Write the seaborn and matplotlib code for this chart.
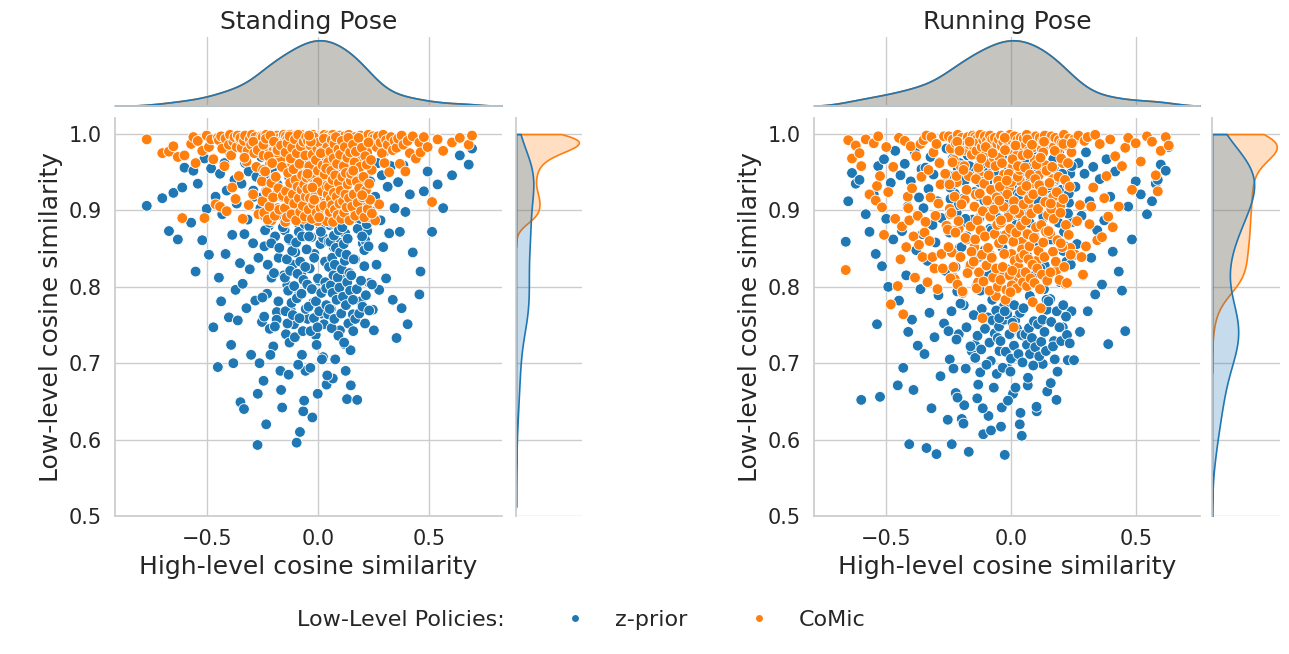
import numpy as np
import pandas as pd
import matplotlib
matplotlib.use("Agg")
import matplotlib.pyplot as plt
from matplotlib.lines import Line2D
import seaborn as sns

# ---- Standing pose: high-level similarity (shared) + low-level similarity per policy ----
stand_high = [
    -0.77, -0.70, -0.67, -0.65, -0.63, -0.61, -0.60,
    -0.57, -0.56, -0.55, -0.54, -0.52, -0.51, -0.50, -0.49, -0.48, -0.47, -0.46, -0.45,
    -0.445, -0.44, -0.435, -0.43, -0.42, -0.415, -0.41, -0.40, -0.395, -0.39, -0.385, -0.38,
    -0.375, -0.37, -0.365, -0.36, -0.355, -0.35,
    -0.348, -0.343, -0.338, -0.332, -0.327, -0.321, -0.316, -0.311, -0.306, -0.300, -0.296, -0.291,
    -0.286, -0.281, -0.276, -0.271, -0.267, -0.262, -0.258, -0.254, -0.251, -0.33, -0.29, -0.27,
    -0.248, -0.244, -0.240, -0.236, -0.232, -0.228, -0.224, -0.220, -0.216, -0.212, -0.208, -0.204,
    -0.200, -0.196, -0.192, -0.188, -0.184, -0.180, -0.176, -0.172, -0.168, -0.164, -0.160, -0.156,
    -0.153, -0.246, -0.218, -0.185,
    -0.149, -0.146, -0.143, -0.140, -0.137, -0.134, -0.131, -0.128, -0.125, -0.122, -0.119, -0.116,
    -0.113, -0.110, -0.107, -0.104, -0.101, -0.098, -0.095, -0.092, -0.089, -0.086, -0.083, -0.080,
    -0.077, -0.074, -0.071, -0.068, -0.065, -0.060, -0.055,
    -0.048, -0.045, -0.042, -0.039, -0.036, -0.033, -0.030, -0.027, -0.024, -0.021, -0.018, -0.015,
    -0.012, -0.009, -0.006, -0.003, 0.000, 0.003, 0.006, 0.009, 0.012, 0.015, 0.018, 0.021,
    0.024, 0.027, 0.030, 0.033, 0.036, 0.040, 0.044, 0.048,
    0.052, 0.056, 0.060, 0.064, 0.068, 0.072, 0.076, 0.080, 0.084, 0.088, 0.092, 0.096,
    0.100, 0.104, 0.108, 0.112, 0.116, 0.120, 0.124, 0.128, 0.132, 0.136, 0.140, 0.144,
    0.148, 0.062, 0.094, 0.126,
    0.153, 0.158, 0.163, 0.168, 0.173, 0.178, 0.183, 0.188, 0.193, 0.198, 0.203, 0.208,
    0.213, 0.218, 0.223, 0.228, 0.233, 0.238, 0.243, 0.248, 0.17, 0.21,
    0.253, 0.259, 0.265, 0.271, 0.277, 0.283, 0.289, 0.295, 0.301, 0.308, 0.315, 0.322, 0.330, 0.338, 0.346,
    0.355, 0.362, 0.370, 0.378, 0.386, 0.395, 0.405, 0.415, 0.428, 0.442,
    0.458, 0.463, 0.478, 0.495, 0.515, 0.540,
    0.565, 0.605, 0.640, 0.680, 0.695,
    # dense core of the cloud
    -0.249, -0.245, -0.241, -0.237, -0.233, -0.229, -0.225, -0.221, -0.217, -0.213, -0.209,
    -0.205, -0.201, -0.197, -0.193, -0.189, -0.181, -0.177, -0.173, -0.165, -0.161, -0.157,
    -0.148, -0.145, -0.142, -0.139, -0.136, -0.133, -0.130, -0.127, -0.124, -0.121, -0.118, -0.115,
    -0.112, -0.109, -0.106, -0.103, -0.100, -0.097, -0.094, -0.091, -0.088, -0.085, -0.082, -0.079,
    -0.076, -0.073, -0.070, -0.067, -0.064, -0.061, -0.058, -0.056, -0.054, -0.052, -0.050,
    -0.047, -0.044, -0.041, -0.038, -0.035, -0.032, -0.029, -0.026, -0.023, -0.020, -0.017, -0.014,
    -0.011, -0.008, -0.005, -0.002, 0.001, 0.004, 0.007, 0.010, 0.013, 0.016, 0.019, 0.022,
    0.025, 0.028, 0.031, 0.034, 0.037, 0.039, 0.041, 0.043, 0.045, 0.047, 0.049, -0.046,
    -0.031, -0.016, -0.001, 0.014, 0.029, 0.038, -0.039, -0.024, 0.006,
    0.051, 0.054, 0.057, 0.059, 0.061, 0.063, 0.065, 0.067, 0.069, 0.071, 0.073, 0.075,
    0.077, 0.079, 0.082, 0.085, 0.087, 0.090, 0.093, 0.095, 0.098, 0.101, 0.103, 0.106,
    0.109, 0.111, 0.114, 0.117, 0.119, 0.122, 0.125, 0.127, 0.130, 0.133, 0.135, 0.138,
    0.141, 0.143, 0.146, 0.149,
    0.151, 0.155, 0.159, 0.162, 0.166, 0.169, 0.172, 0.176, 0.180, 0.184, 0.187, 0.191,
    0.195, 0.199, 0.202, 0.206, 0.210, 0.214, 0.217, 0.221, 0.225, 0.229, 0.232, 0.236,
    0.240, 0.244, 0.160, 0.200,
]
stand_zprior = [
    0.906, 0.916, 0.873, 0.923, 0.862, 0.930, 0.956,
    0.884, 0.952, 0.820, 0.935, 0.861, 0.968, 0.902, 0.842, 0.955, 0.747, 0.918, 0.695,
    0.812, 0.948, 0.781, 0.895, 0.962, 0.843, 0.926, 0.760, 0.975, 0.724, 0.868, 0.700,
    0.940, 0.796, 0.909, 0.756, 0.983, 0.831,
    0.649, 0.935, 0.804, 0.640, 0.962, 0.772, 0.888, 0.951, 0.823, 0.711, 0.976, 0.857,
    0.918, 0.782, 0.944, 0.593, 0.838, 0.700, 0.903, 0.970, 0.754, 0.869, 0.926, 0.660,
    0.918, 0.677, 0.853, 0.955, 0.620, 0.791, 0.937, 0.880, 0.745, 0.968, 0.812, 0.901,
    0.722, 0.947, 0.866, 0.983, 0.767, 0.925, 0.838, 0.959, 0.690, 0.894, 0.642, 0.973,
    0.815, 0.939, 0.910, 0.757,
    0.874, 0.956, 0.738, 0.921, 0.802, 0.985, 0.685, 0.943, 0.861, 0.770, 0.967, 0.899,
    0.829, 0.932, 0.751, 0.975, 0.845, 0.908, 0.596, 0.950, 0.788, 0.883, 0.929, 0.610,
    0.962, 0.817, 0.711, 0.941, 0.637, 0.978, 0.690,
    0.936, 0.758, 0.902, 0.971, 0.824, 0.694, 0.949, 0.865, 0.912, 0.779, 0.988, 0.843,
    0.926, 0.737, 0.958, 0.887, 0.660, 0.941, 0.808, 0.977, 0.856, 0.918, 0.765, 0.963,
    0.708, 0.894, 0.932, 0.833, 0.969, 0.672, 0.905, 0.947,
    0.881, 0.960, 0.771, 0.924, 0.680, 0.852, 0.978, 0.906, 0.796, 0.944, 0.826, 0.968,
    0.743, 0.892, 0.935, 0.812, 0.955, 0.725, 0.870, 0.982, 0.653, 0.913, 0.789, 0.949,
    0.717, 0.929, 0.858, 0.690,
    0.907, 0.764, 0.951, 0.836, 0.975, 0.652, 0.889, 0.930, 0.781, 0.963, 0.857, 0.916,
    0.752, 0.944, 0.873, 0.986, 0.805, 0.938, 0.899, 0.770, 0.922, 0.848,
    0.743, 0.918, 0.829, 0.962, 0.796, 0.887, 0.946, 0.852, 0.977, 0.811, 0.931, 0.870, 0.958, 0.783, 0.903,
    0.733, 0.937, 0.872, 0.772, 0.959, 0.898, 0.751, 0.921, 0.845, 0.968,
    0.790, 0.820, 0.925, 0.951, 0.872, 0.934,
    0.903, 0.946, 0.972, 0.960, 0.981,
    # dense core of the cloud
    0.786, 0.942, 0.761, 0.874, 0.925, 0.948, 0.829, 0.973, 0.884, 0.711, 0.857,
    0.955, 0.962, 0.818, 0.748, 0.939, 0.934, 0.781, 0.851, 0.665, 0.918, 0.878,
    0.812, 0.768, 0.885, 0.836, 0.752, 0.795, 0.863, 0.727, 0.821, 0.958, 0.779, 0.847,
    0.763, 0.889, 0.801, 0.734, 0.926, 0.858, 0.785, 0.817, 0.698, 0.872, 0.759, 0.833,
    0.946, 0.791, 0.866, 0.742, 0.809, 0.651, 0.882, 0.826, 0.771, 0.915, 0.849,
    0.803, 0.951, 0.774, 0.879, 0.926, 0.742, 0.865, 0.797, 0.936, 0.918, 0.759, 0.888,
    0.935, 0.781, 0.724, 0.957, 0.811, 0.953, 0.768, 0.942, 0.876, 0.792, 0.705, 0.929,
    0.864, 0.751, 0.919, 0.806, 0.948, 0.776, 0.891, 0.684, 0.923, 0.764, 0.859, 0.968,
    0.941, 0.838, 0.747, 0.872, 0.915, 0.798, 0.866, 0.629, 0.933,
    0.826, 0.771, 0.859, 0.802, 0.884, 0.746, 0.838, 0.792, 0.941, 0.815, 0.867, 0.758,
    0.829, 0.705, 0.851, 0.783, 0.895, 0.812, 0.736, 0.874, 0.799, 0.845, 0.958, 0.765,
    0.823, 0.878, 0.787, 0.856, 0.727, 0.834, 0.908, 0.776, 0.842, 0.806, 0.863, 0.752,
    0.887, 0.818, 0.795, 0.671,
    0.815, 0.964, 0.783, 0.836, 0.902, 0.758, 0.949, 0.797, 0.876, 0.921, 0.765, 0.889,
    0.808, 0.943, 0.774, 0.931, 0.827, 0.861, 0.789, 0.882, 0.912, 0.853, 0.769, 0.938,
    0.895, 0.803, 0.742, 0.866,
]
stand_comic = [
    0.993, 0.975, 0.977, 0.984, 0.970, 0.890, 0.972,
    0.987, 0.996, 0.962, 0.991, 0.978, 0.890, 0.998, 0.983, 0.993, 0.967, 0.908, 0.995,
    0.992, 0.905, 0.997, 0.981, 0.958, 0.994, 0.899, 0.986, 0.999, 0.972, 0.930, 0.990,
    0.996, 0.915, 0.983, 0.998, 0.945, 0.993,
    0.995, 0.982, 0.889, 0.991, 0.998, 0.964, 0.978, 0.907, 0.993, 0.986, 0.999, 0.921,
    0.975, 0.996, 0.957, 0.988, 0.895, 0.992, 0.983, 0.997, 0.938, 0.969, 0.990, 0.979,
    0.996, 0.972, 0.893, 0.988, 0.999, 0.915, 0.983, 0.994, 0.960, 0.990, 0.887, 0.997,
    0.978, 0.942, 0.992, 0.985, 0.998, 0.903, 0.981, 0.995, 0.966, 0.991, 0.926, 0.987,
    0.999, 0.953, 0.993, 0.976,
    0.990, 0.885, 0.997, 0.979, 0.993, 0.955, 0.988, 0.918, 0.999, 0.984, 0.971, 0.996,
    0.901, 0.991, 0.986, 0.947, 0.998, 0.977, 0.994, 0.932, 0.989, 0.963, 0.995, 0.910,
    0.982, 0.999, 0.973, 0.992, 0.889, 0.987, 0.996,
    0.994, 0.981, 0.897, 0.998, 0.990, 0.958, 0.986, 0.993, 0.921, 0.999, 0.977, 0.987,
    0.940, 0.995, 0.969, 0.991, 0.886, 0.983, 0.997, 0.952, 0.989, 0.996, 0.908, 0.980,
    0.993, 0.975, 0.999, 0.927, 0.985, 0.964, 0.992, 0.998,
    0.988, 0.996, 0.930, 0.983, 0.999, 0.971, 0.992, 0.894, 0.987, 0.995, 0.961, 0.979,
    0.998, 0.912, 0.990, 0.984, 0.946, 0.997, 0.975, 0.993, 0.889, 0.986, 0.999, 0.956,
    0.981, 0.994, 0.920, 0.991,
    0.991, 0.978, 0.899, 0.996, 0.985, 0.993, 0.942, 0.988, 0.998, 0.967, 0.982, 0.913,
    0.995, 0.987, 0.976, 0.999, 0.891, 0.990, 0.953, 0.997, 0.984, 0.935,
    0.994, 0.887, 0.983, 0.997, 0.908, 0.989, 0.975, 0.999, 0.962, 0.992, 0.986, 0.950, 0.996, 0.979, 0.991,
    0.982, 0.994, 0.961, 0.998, 0.986, 0.951, 0.991, 0.975, 0.997, 0.968,
    0.989, 0.976, 0.996, 0.983, 0.911, 0.993,
    0.978, 0.989, 0.995, 0.986, 0.998,
    # dense core of the cloud
    0.912, 0.986, 0.897, 0.951, 0.994, 0.924, 0.888, 0.971, 0.905, 0.998, 0.936,
    0.962, 0.917, 0.990, 0.893, 0.944, 0.979, 0.929, 0.901, 0.985, 0.957, 0.919,
    0.903, 0.976, 0.925, 0.891, 0.988, 0.949, 0.914, 0.997, 0.936, 0.968, 0.895, 0.982,
    0.921, 0.954, 0.909, 0.993, 0.940, 0.887, 0.975, 0.931, 0.999, 0.916, 0.961, 0.898,
    0.984, 0.927, 0.946, 0.906, 0.990, 0.934, 0.892, 0.972, 0.918, 0.996, 0.943,
    0.928, 0.991, 0.901, 0.958, 0.916, 0.985, 0.944, 0.889, 0.973, 0.908, 0.996, 0.935,
    0.919, 0.966, 0.897, 0.981, 0.952, 0.912, 0.989, 0.939, 0.903, 0.977, 0.925, 0.959,
    0.893, 0.994, 0.947, 0.910, 0.970, 0.932, 0.886, 0.983, 0.921, 0.963, 0.899, 0.948,
    0.990, 0.914, 0.937, 0.975, 0.906, 0.955, 0.998, 0.930, 0.891,
    0.931, 0.898, 0.977, 0.915, 0.952, 0.992, 0.907, 0.940, 0.885, 0.968, 0.923, 0.987,
    0.901, 0.946, 0.996, 0.918, 0.961, 0.894, 0.980, 0.936, 0.909, 0.973, 0.926, 0.889,
    0.991, 0.944, 0.912, 0.958, 0.897, 0.983, 0.921, 0.949, 0.904, 0.969, 0.934, 0.995,
    0.916, 0.887, 0.976, 0.939,
    0.948, 0.905, 0.986, 0.921, 0.963, 0.893, 0.977, 0.938, 0.910, 0.995, 0.929, 0.957,
    0.899, 0.982, 0.917, 0.944, 0.891, 0.971, 0.926, 0.960, 0.902, 0.989, 0.935, 0.914,
    0.966, 0.896, 0.952, 0.920,
]

# ---- Running pose ----
run_high = [
    -0.660, -0.650, -0.635, -0.620, -0.605, -0.598, -0.580, -0.565,
    -0.548, -0.540, -0.535, -0.530, -0.523, -0.515, -0.507, -0.498, -0.490, -0.480, -0.470, -0.462, -0.452,
    -0.447, -0.441, -0.435, -0.430, -0.424, -0.418, -0.412, -0.406, -0.400, -0.395, -0.389, -0.383,
    -0.378, -0.372, -0.367, -0.361, -0.357, -0.353, -0.410,
    -0.349, -0.345, -0.341, -0.337, -0.333, -0.329, -0.325, -0.321, -0.317, -0.313, -0.309, -0.305,
    -0.301, -0.297, -0.293, -0.289, -0.285, -0.281, -0.277, -0.272, -0.267, -0.262, -0.257, -0.252,
    -0.248, -0.244, -0.240, -0.236, -0.232, -0.228, -0.224, -0.220, -0.216, -0.212, -0.208, -0.204,
    -0.200, -0.196, -0.192, -0.188, -0.184, -0.180, -0.176, -0.172, -0.168, -0.164, -0.160, -0.156,
    -0.152, -0.242, -0.214, -0.186,
    -0.149, -0.146, -0.143, -0.140, -0.137, -0.134, -0.131, -0.128, -0.125, -0.122, -0.119, -0.116,
    -0.113, -0.110, -0.107, -0.104, -0.101, -0.098, -0.095, -0.092, -0.089, -0.086, -0.083, -0.080,
    -0.077, -0.074, -0.071, -0.068, -0.064, -0.059, -0.054,
    -0.048, -0.045, -0.042, -0.039, -0.036, -0.033, -0.030, -0.027, -0.024, -0.021, -0.018, -0.015,
    -0.012, -0.009, -0.006, -0.003, 0.000, 0.003, 0.006, 0.009, 0.012, 0.015, 0.018, 0.021,
    0.024, 0.027, 0.030, 0.033, 0.036, 0.040, 0.044, 0.048,
    0.052, 0.056, 0.060, 0.064, 0.068, 0.072, 0.076, 0.080, 0.084, 0.088, 0.092, 0.096,
    0.100, 0.104, 0.108, 0.112, 0.116, 0.120, 0.124, 0.128, 0.132, 0.136, 0.140, 0.144,
    0.148, 0.066, 0.098, 0.130,
    0.153, 0.158, 0.163, 0.168, 0.173, 0.178, 0.183, 0.188, 0.193, 0.198, 0.203, 0.208,
    0.213, 0.218, 0.223, 0.228, 0.233, 0.238, 0.243, 0.248, 0.170, 0.210,
    0.253, 0.259, 0.265, 0.271, 0.277, 0.283, 0.289, 0.295, 0.301, 0.308, 0.315, 0.322, 0.330, 0.338, 0.346,
    0.356, 0.365, 0.374, 0.383, 0.390, 0.398, 0.408, 0.418, 0.432, 0.445,
    0.458, 0.470, 0.485, 0.500, 0.520, 0.545,
    0.565, 0.580, 0.588, 0.600, 0.620, 0.632,
    # dense core of the cloud
    -0.249, -0.245, -0.241, -0.237, -0.233, -0.229, -0.225, -0.221, -0.217, -0.213, -0.209,
    -0.205, -0.201, -0.197, -0.193, -0.189, -0.181, -0.177, -0.173, -0.165, -0.161, -0.157,
    -0.148, -0.145, -0.142, -0.139, -0.136, -0.133, -0.130, -0.127, -0.124, -0.121, -0.118, -0.115,
    -0.112, -0.109, -0.106, -0.103, -0.100, -0.097, -0.094, -0.091, -0.088, -0.085, -0.082, -0.079,
    -0.076, -0.073, -0.070, -0.067, -0.064, -0.061, -0.058, -0.056, -0.054, -0.052, -0.050,
    -0.047, -0.044, -0.041, -0.038, -0.035, -0.032, -0.029, -0.026, -0.023, -0.020, -0.017, -0.014,
    -0.011, -0.008, -0.005, -0.002, 0.001, 0.004, 0.007, 0.010, 0.013, 0.016, 0.019, 0.022,
    0.025, 0.028, 0.031, 0.034, 0.037, 0.039, 0.041, 0.043, 0.045, 0.047, 0.049, -0.046,
    -0.031, -0.016, -0.001, 0.014, 0.029, 0.038, -0.039, -0.024, 0.006,
    0.051, 0.054, 0.057, 0.059, 0.061, 0.063, 0.065, 0.067, 0.069, 0.071, 0.073, 0.075,
    0.077, 0.079, 0.082, 0.085, 0.087, 0.090, 0.093, 0.095, 0.098, 0.101, 0.103, 0.106,
    0.109, 0.111, 0.114, 0.117, 0.119, 0.122, 0.125, 0.127, 0.130, 0.133, 0.135, 0.138,
    0.141, 0.143, 0.146, 0.149,
    0.151, 0.155, 0.159, 0.162, 0.166, 0.169, 0.172, 0.176, 0.180, 0.184, 0.187, 0.191,
    0.195, 0.199, 0.202, 0.206, 0.210, 0.214, 0.217, 0.221, 0.225, 0.229, 0.232, 0.236,
    0.240, 0.244, 0.160, 0.200,
]
run_zprior = [
    0.859, 0.912, 0.949, 0.935, 0.940, 0.652, 0.895, 0.872,
    0.921, 0.843, 0.751, 0.958, 0.656, 0.827, 0.967, 0.889, 0.800, 0.936, 0.862, 0.978, 0.671,
    0.782, 0.946, 0.873, 0.694, 0.961, 0.815, 0.905, 0.594, 0.938, 0.757, 0.665, 0.976,
    0.848, 0.723, 0.917, 0.797, 0.954, 0.869, 0.741,
    0.903, 0.712, 0.956, 0.589, 0.834, 0.928, 0.766, 0.970, 0.641, 0.881, 0.947, 0.734,
    0.858, 0.581, 0.912, 0.789, 0.963, 0.683, 0.890, 0.935, 0.752, 0.821, 0.981, 0.626,
    0.946, 0.705, 0.874, 0.594, 0.968, 0.812, 0.922, 0.661, 0.897, 0.955, 0.738, 0.851,
    0.984, 0.627, 0.915, 0.776, 0.939, 0.693, 0.866, 0.972, 0.584, 0.828, 0.951, 0.716,
    0.888, 0.930, 0.794, 0.645,
    0.862, 0.943, 0.724, 0.977, 0.801, 0.654, 0.919, 0.839, 0.959, 0.688, 0.893, 0.771,
    0.934, 0.607, 0.985, 0.848, 0.746, 0.908, 0.966, 0.819, 0.631, 0.952, 0.876, 0.703,
    0.926, 0.783, 0.990, 0.668, 0.899, 0.941, 0.757,
    0.931, 0.716, 0.884, 0.962, 0.642, 0.851, 0.945, 0.775, 0.580, 0.908, 0.979, 0.823,
    0.693, 0.953, 0.867, 0.737, 0.924, 0.987, 0.802, 0.660, 0.939, 0.892, 0.756, 0.970,
    0.834, 0.915, 0.709, 0.958, 0.620, 0.877, 0.605, 0.948,
    0.897, 0.735, 0.962, 0.842, 0.671, 0.926, 0.788, 0.981, 0.869, 0.714, 0.944, 0.815,
    0.905, 0.637, 0.971, 0.858, 0.752, 0.933, 0.881, 0.699, 0.955, 0.828, 0.917, 0.770,
    0.985, 0.940, 0.726, 0.890,
    0.918, 0.784, 0.956, 0.861, 0.729, 0.939, 0.652, 0.893, 0.976, 0.806, 0.927, 0.747,
    0.872, 0.963, 0.833, 0.704, 0.910, 0.948, 0.768, 0.885, 0.967, 0.847,
    0.704, 0.931, 0.856, 0.962, 0.741, 0.893, 0.815, 0.948, 0.976, 0.768, 0.912, 0.838, 0.957, 0.790, 0.874,
    0.941, 0.803, 0.887, 0.967, 0.725, 0.918, 0.846, 0.951, 0.820, 0.795,
    0.742, 0.905, 0.862, 0.938, 0.921, 0.895,
    0.912, 0.935, 0.940, 0.960, 0.952, 0.983,
    # dense core of the cloud
    0.742, 0.871, 0.915, 0.768, 0.934, 0.693, 0.945, 0.826, 0.731, 0.655, 0.907,
    0.962, 0.778, 0.852, 0.884, 0.621, 0.889, 0.747, 0.926, 0.958, 0.722, 0.973,
    0.763, 0.924, 0.707, 0.951, 0.946, 0.736, 0.672, 0.889, 0.937, 0.795, 0.718, 0.961,
    0.641, 0.898, 0.913, 0.745, 0.979, 0.698, 0.937, 0.760, 0.969, 0.727, 0.908, 0.612,
    0.874, 0.756, 0.955, 0.905, 0.739, 0.928, 0.769, 0.686, 0.946, 0.733, 0.890,
    0.748, 0.912, 0.729, 0.866, 0.971, 0.694, 0.938, 0.757, 0.889, 0.715, 0.943, 0.764,
    0.651, 0.897, 0.738, 0.981, 0.706, 0.955, 0.753, 0.927, 0.723, 0.874, 0.668, 0.881,
    0.745, 0.962, 0.712, 0.919, 0.766, 0.635, 0.953, 0.737, 0.884, 0.701, 0.972, 0.759,
    0.926, 0.909, 0.689, 0.776, 0.903, 0.941, 0.617, 0.768, 0.934,
    0.772, 0.906, 0.849, 0.738, 0.951, 0.925, 0.724, 0.963, 0.681, 0.918, 0.746, 0.884,
    0.712, 0.939, 0.957, 0.733, 0.904, 0.697, 0.755, 0.866, 0.721, 0.948, 0.643, 0.936,
    0.751, 0.912, 0.709, 0.969, 0.824, 0.728, 0.978, 0.757, 0.892, 0.797, 0.741, 0.959,
    0.716, 0.783, 0.663, 0.929,
    0.781, 0.933, 0.862, 0.754, 0.917, 0.722, 0.956, 0.705, 0.941, 0.768, 0.689, 0.884,
    0.747, 0.912, 0.729, 0.948, 0.776, 0.964, 0.853, 0.761, 0.737, 0.896, 0.922, 0.726,
    0.829, 0.958, 0.674, 0.907,
]
run_comic = [
    0.822, 0.992, 0.968, 0.985, 0.975, 0.958, 0.993, 0.921,
    0.988, 0.913, 0.932, 0.997, 0.945, 0.904, 0.868, 0.983, 0.924, 0.777, 0.957, 0.889, 0.801,
    0.995, 0.836, 0.879, 0.764, 0.991, 0.852, 0.918, 0.887, 0.984, 0.929, 0.866, 0.812,
    0.971, 0.893, 0.855, 0.987, 0.944, 0.839, 0.903,
    0.992, 0.871, 0.885, 0.998, 0.806, 0.953, 0.860, 0.917, 0.996, 0.839, 0.976, 0.824,
    0.893, 0.987, 0.797, 0.909, 0.962, 0.934, 0.843, 0.824, 0.997, 0.948, 0.880, 0.875,
    0.997, 0.902, 0.981, 0.845, 0.993, 0.966, 0.810, 0.988, 0.937, 0.999, 0.876, 0.984,
    0.958, 0.995, 0.792, 0.979, 0.914, 0.991, 0.862, 0.996, 0.945, 0.986, 0.829, 0.973,
    0.998, 0.895, 0.990, 0.958,
    0.985, 0.852, 0.996, 0.921, 0.978, 0.994, 0.806, 0.989, 0.947, 0.999, 0.873, 0.983,
    0.759, 0.992, 0.938, 0.997, 0.827, 0.975, 0.991, 0.898, 0.986, 0.962, 0.998, 0.841,
    0.980, 0.993, 0.911, 0.969, 0.995, 0.788, 0.987,
    0.993, 0.969, 0.818, 0.998, 0.984, 0.905, 0.990, 0.947, 0.996, 0.783, 0.981, 0.994,
    0.866, 0.988, 0.930, 0.999, 0.977, 0.843, 0.991, 0.958, 0.747, 0.997, 0.985, 0.896,
    0.972, 0.992, 0.810, 0.987, 0.939, 0.995, 0.859, 0.983,
    0.994, 0.925, 0.986, 0.999, 0.851, 0.978, 0.993, 0.902, 0.990, 0.780, 0.983, 0.966,
    0.997, 0.834, 0.988, 0.946, 0.995, 0.772, 0.980, 0.991, 0.877, 0.998, 0.959, 0.986,
    0.813, 0.993, 0.935, 0.976,
    0.990, 0.869, 0.997, 0.941, 0.983, 0.995, 0.822, 0.979, 0.992, 0.906, 0.988, 0.962,
    0.999, 0.804, 0.985, 0.933, 0.994, 0.851, 0.976, 0.991, 0.918, 0.987,
    0.993, 0.842, 0.886, 0.998, 0.907, 0.839, 0.816, 0.991, 0.853, 0.996, 0.882, 0.905, 0.930, 0.999, 0.861,
    0.987, 0.865, 0.916, 0.945, 0.892, 0.993, 0.878, 0.971, 0.905, 0.958,
    0.982, 0.995, 0.927, 0.988, 0.964, 0.997,
    0.990, 0.946, 0.925, 0.978, 0.996, 0.985,
    # dense core of the cloud
    0.852, 0.934, 0.811, 0.897, 0.963, 0.826, 0.918, 0.871, 0.945, 0.803, 0.886,
    0.978, 0.839, 0.908, 0.794, 0.953, 0.864, 0.927, 0.818, 0.990, 0.879, 0.846,
    0.833, 0.905, 0.862, 0.941, 0.798, 0.887, 0.956, 0.819, 0.922, 0.874, 0.968, 0.842,
    0.899, 0.807, 0.935, 0.866, 0.983, 0.828, 0.913, 0.851, 0.946, 0.795, 0.892, 0.927,
    0.838, 0.975, 0.812, 0.901, 0.869, 0.958, 0.824, 0.917, 0.881, 0.800, 0.939,
    0.857, 0.931, 0.809, 0.884, 0.962, 0.826, 0.905, 0.843, 0.979, 0.868, 0.796, 0.921,
    0.891, 0.948, 0.815, 0.876, 0.937, 0.802, 0.967, 0.859, 0.912, 0.834, 0.985, 0.871,
    0.798, 0.944, 0.826, 0.896, 0.953, 0.817, 0.880, 0.926, 0.849, 0.972, 0.806, 0.913,
    0.862, 0.939, 0.793, 0.901, 0.958, 0.838, 0.887, 0.995, 0.821,
    0.908, 0.842, 0.956, 0.819, 0.887, 0.932, 0.801, 0.869, 0.974, 0.836, 0.915, 0.853,
    0.947, 0.811, 0.896, 0.986, 0.829, 0.921, 0.864, 0.805, 0.941, 0.878, 0.960, 0.824,
    0.902, 0.847, 0.933, 0.797, 0.969, 0.881, 0.816, 0.925, 0.858, 0.990, 0.839, 0.911,
    0.872, 0.952, 0.808, 0.894,
    0.873, 0.936, 0.819, 0.902, 0.957, 0.846, 0.889, 0.978, 0.833, 0.924, 0.861, 0.944,
    0.809, 0.897, 0.968, 0.852, 0.915, 0.826, 0.940, 0.881, 0.805, 0.962, 0.868, 0.931,
    0.842, 0.988, 0.909, 0.857,
]

policies = ["z-prior", "CoMic"]
panel_titles = ["Standing Pose", "Running Pose"]

sns.set_theme(style="whitegrid", context="notebook")
plt.rcParams["font.family"] = ["DejaVu Sans"]
palette = dict(zip(policies, sns.color_palette("tab10", 2)))

W, H = 1289, 654
fig = plt.figure(figsize=(W / 100, H / 100), dpi=100)


def rect(x0, y0, x1, y1):
    # pixel box (top-left origin) -> figure fraction
    return [x0 / W, 1 - y1 / H, (x1 - x0) / W, (y1 - y0) / H]


def joint_panel(high, zprior, comic, title, left, main_right, marg_left, marg_right, xlim):
    df = pd.DataFrame({
        "high": high + high,
        "low": zprior + comic,
        "policy": [policies[0]] * len(high) + [policies[1]] * len(high),
    })
    ax = fig.add_axes(rect(left, 118, main_right, 516))
    ax_top = fig.add_axes(rect(left, 37, main_right, 106), sharex=ax)
    ax_side = fig.add_axes(rect(marg_left, 118, marg_right, 516), sharey=ax)

    sns.scatterplot(data=df, x="high", y="low", hue="policy", hue_order=policies,
                    palette=palette, s=60, ax=ax, legend=False)
    sns.kdeplot(data=df, x="high", hue="policy", hue_order=policies, palette=palette,
                fill=True, bw_adjust=1.0, linewidth=1.2, ax=ax_top, legend=False)
    sns.kdeplot(data=df, y="low", hue="policy", hue_order=policies, palette=palette,
                fill=True, bw_adjust=1.0, clip=(0.0, 1.0), linewidth=1.2, ax=ax_side,
                legend=False)

    ax.set_xlim(*xlim)
    ax.set_ylim(0.5, 1.021)
    ax.set_xticks([-0.5, 0.0, 0.5])
    ax.set_yticks([0.5, 0.6, 0.7, 0.8, 0.9, 1.0])
    ax.tick_params(labelsize=15)
    ax.set_xlabel("High-level cosine similarity", fontsize=18)
    ax.set_ylabel("Low-level cosine similarity", fontsize=18)
    sns.despine(ax=ax)

    ax_top.set_title(title, fontsize=18)
    ax_top.set_xlabel("")
    ax_top.set_ylabel("")
    ax_top.tick_params(labelbottom=False, labelleft=False)
    ax_top.yaxis.grid(False)
    ax_top.set_ylim(bottom=0)
    sns.despine(ax=ax_top, left=True)

    ax_side.set_xlabel("")
    ax_side.set_ylabel("")
    ax_side.tick_params(labelbottom=False, labelleft=False)
    ax_side.xaxis.grid(False)
    ax_side.set_xlim(left=0)
    sns.despine(ax=ax_side, bottom=True)


joint_panel(stand_high, stand_zprior, stand_comic, panel_titles[0], 115, 502, 516, 582, (-0.913, 0.83))
joint_panel(run_high, run_zprior, run_comic, panel_titles[1], 814, 1200, 1212, 1280, (-0.787, 0.757))

handles = [Line2D([], [], color="none")]
for p in policies:
    handles.append(Line2D([], [], marker="o", linestyle="none", markersize=6,
                          markerfacecolor=palette[p], markeredgecolor="white"))
fig.legend(handles, ["Low-Level Policies:"] + policies, ncol=3, loc="center",
           bbox_to_anchor=(550 / W, 1 - 620 / H), frameon=False, fontsize=16,
           columnspacing=2.2, handletextpad=0.8)

fig.savefig("out.png", dpi=100)
